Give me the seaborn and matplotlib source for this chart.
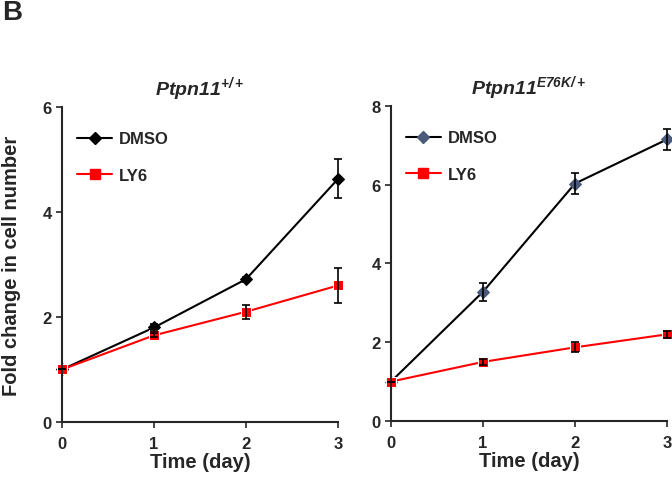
import numpy as np
import pandas as pd
import matplotlib
matplotlib.use("Agg")
import matplotlib.pyplot as plt
import seaborn as sns
from matplotlib.lines import Line2D

days = [0, 1, 2, 3]

# Ptpn11 +/+
wt_dmso = [1.0, 1.80, 2.72, 4.63]
wt_dmso_err = [0.0, 0.07, 0.05, 0.37]
wt_ly6 = [1.0, 1.65, 2.10, 2.60]
wt_ly6_err = [0.0, 0.04, 0.13, 0.33]

# Ptpn11 E76K/+
mut_dmso = [1.0, 3.28, 6.03, 7.15]
mut_dmso_err = [0.0, 0.23, 0.27, 0.27]
mut_ly6 = [1.0, 1.50, 1.87, 2.20]
mut_ly6_err = [0.0, 0.08, 0.13, 0.09]

sns.set_theme(style="ticks")
plt.rcParams['font.family'] = ['Liberation Sans', 'DejaVu Sans']
plt.rcParams['font.weight'] = 'bold'
plt.rcParams['mathtext.fontset'] = 'custom'
plt.rcParams['mathtext.it'] = 'Liberation Sans:bold:italic'
plt.rcParams['mathtext.rm'] = 'Liberation Sans:bold:italic'
plt.rcParams['mathtext.bf'] = 'Liberation Sans:bold:italic'

fig = plt.figure(figsize=(6.72, 4.81), dpi=100)
ax1 = fig.add_axes([0.0923, 0.1206, 0.4107, 0.6549])
ax2 = fig.add_axes([0.5818, 0.1227, 0.4107, 0.6549])


def draw_panel(ax, dmso, dmso_err, ly6, ly6_err, dmso_color, ymax, title):
    df = pd.DataFrame({
        'day': days * 2,
        'fold': dmso + ly6,
        'group': ['DMSO'] * 4 + ['LY6'] * 4,
    })
    sns.lineplot(data=df, x='day', y='fold', hue='group', style='group',
                 palette={'DMSO': 'black', 'LY6': '#ff0000'},
                 markers={'DMSO': 'D', 'LY6': 's'}, dashes=False,
                 markersize=7, linewidth=1.5, ax=ax, legend=False, clip_on=False)
    lines = ax.get_lines()
    lines[0].set_markerfacecolor(dmso_color)
    lines[0].set_markeredgecolor(dmso_color)
    lines[0].set_markersize(6)
    for vals, errs in [(dmso, dmso_err), (ly6, ly6_err)]:
        ax.errorbar(days, vals, yerr=errs, fmt='none', ecolor='black',
                    elinewidth=1.2, capsize=3, capthick=1.2, clip_on=False, zorder=4)
    ax.set_xlim(0, 3)
    ax.set_ylim(0, ymax)
    ax.set_xticks(days)
    ax.set_yticks(np.arange(0, ymax + 1, 2))
    ax.tick_params(axis='both', labelsize=12, width=1.2, length=4, direction='out')
    ax.tick_params(axis='x', pad=6)
    for lab in ax.get_xticklabels() + ax.get_yticklabels():
        lab.set_fontweight('bold')
    sns.despine(ax=ax)
    ax.spines['left'].set_linewidth(1.5)
    ax.spines['bottom'].set_linewidth(1.5)
    ax.set_xlabel('Time (day)', fontsize=14.5, fontweight='bold', labelpad=1)
    ax.set_ylabel('')
    ax.set_title(title, fontsize=14, pad=9)
    handles = [
        Line2D([], [], color='black', marker='D', markersize=6,
               markerfacecolor=dmso_color, markeredgecolor=dmso_color, lw=1.5),
        Line2D([], [], color='#ff0000', marker='s', markersize=7, lw=1.5),
    ]
    ax.legend(handles, ['DMSO', 'LY6'], loc='upper left', frameon=False,
              prop={'weight': 'bold', 'size': 12}, handlelength=2.1,
              labelspacing=1.3, bbox_to_anchor=(0.0, 0.97), handletextpad=0.4)


draw_panel(ax1, wt_dmso, wt_dmso_err, wt_ly6, wt_ly6_err, 'black', 6,
           r'$Ptpn11^{+/+}$')
draw_panel(ax2, mut_dmso, mut_dmso_err, mut_ly6, mut_ly6_err, '#4a5a78', 8,
           r'$Ptpn11^{E76K/+}$')

ax1.set_ylabel('Fold change in cell number', fontsize=14.5, fontweight='bold')
ax1.yaxis.set_label_coords(-0.148, 0.5)
fig.text(0.003, 1.0, 'B', fontsize=20, fontweight='bold', va='top', ha='left')

fig.savefig('out.png', dpi=100)
